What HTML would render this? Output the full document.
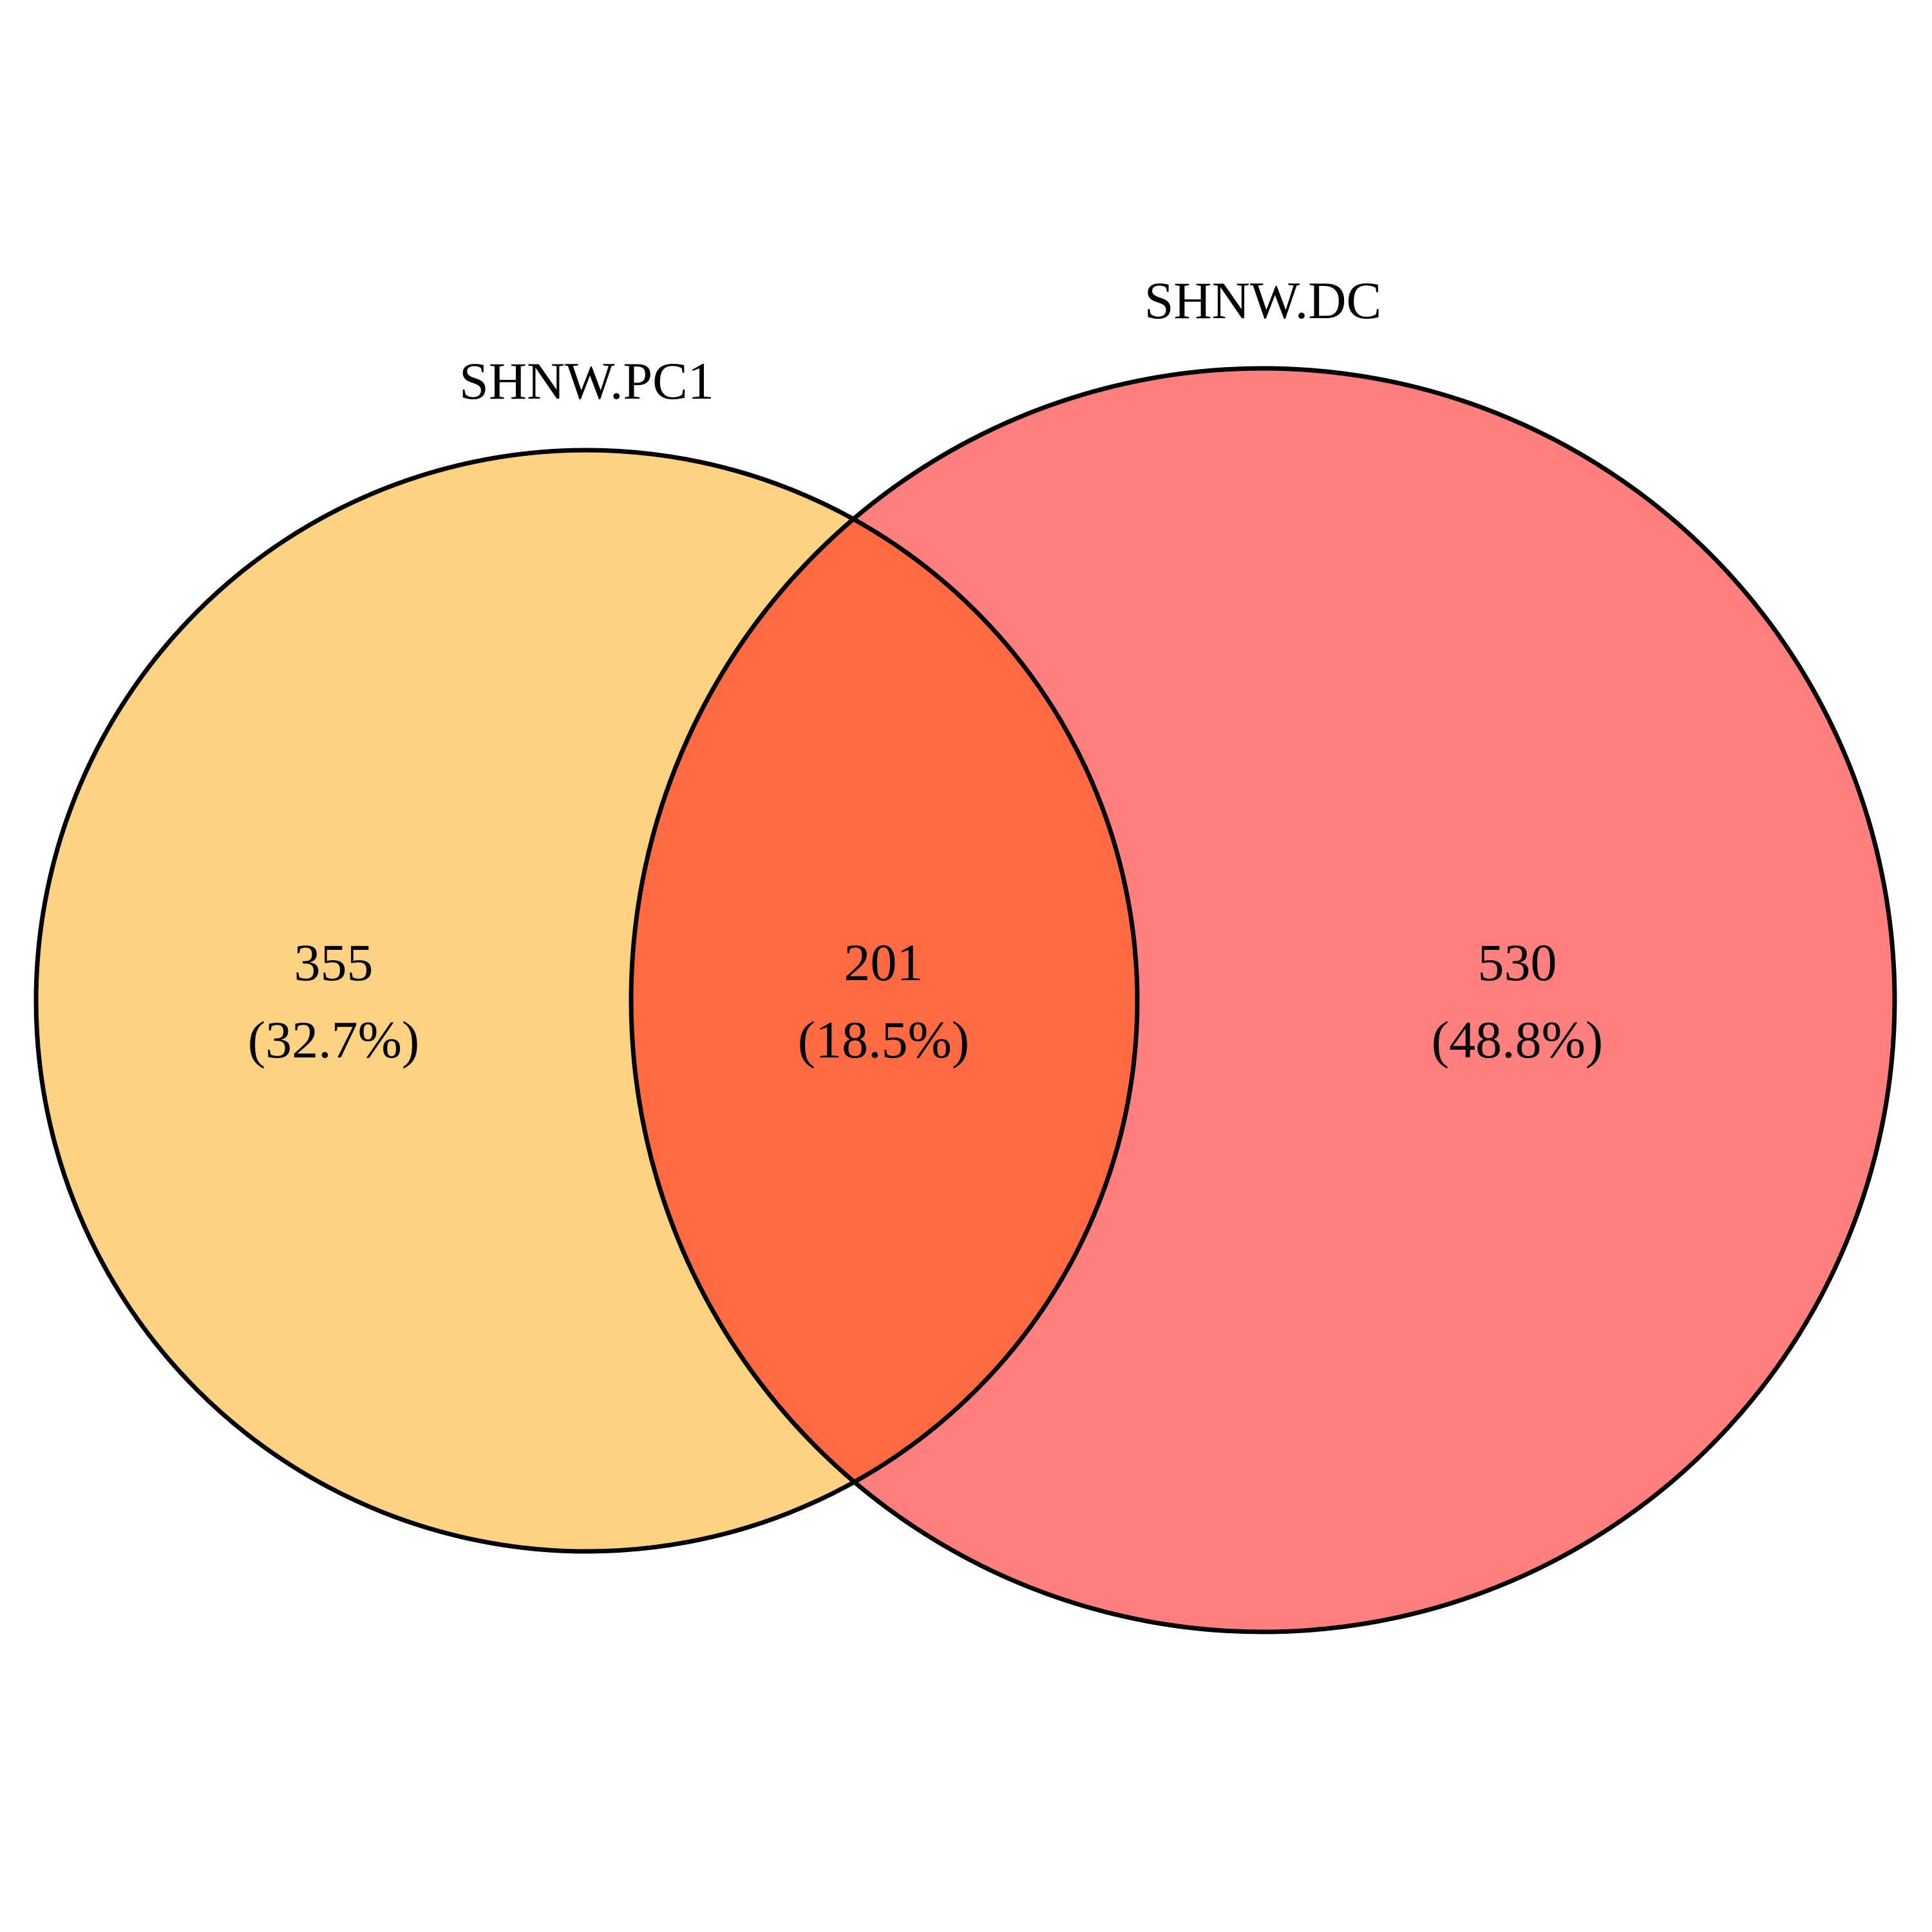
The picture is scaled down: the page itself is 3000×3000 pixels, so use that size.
<!DOCTYPE html>
<html><head><meta charset="utf-8"><style>html,body{margin:0;padding:0;background:#fff}svg{display:block}</style></head>
<body>
<svg width="3000" height="3000" viewBox="0 0 3000 3000" font-family="'Liberation Serif', serif">
<defs>
<clipPath id="clipL"><circle cx="911" cy="1554" r="855"/></clipPath>
</defs>
<circle cx="911" cy="1554" r="855" fill="#fdd283"/>
<circle cx="1961" cy="1553" r="981" fill="#ff7f7f"/>
<circle cx="1961" cy="1553" r="981" fill="#ff6a42" clip-path="url(#clipL)"/>
<circle cx="911" cy="1554" r="855" fill="none" stroke="#000" stroke-width="7"/>
<circle cx="1961" cy="1553" r="981" fill="none" stroke="#000" stroke-width="7"/>
<g font-size="82" text-anchor="middle" fill="#000">
<text x="911" y="619">SHNW.PC1</text>
<text x="1961" y="494">SHNW.DC</text>
<text x="518" y="1522">355</text>
<text x="518" y="1642">(32.7%)</text>
<text x="1372" y="1522">201</text>
<text x="1372" y="1642">(18.5%)</text>
<text x="2356" y="1522">530</text>
<text x="2356" y="1642">(48.8%)</text>
</g>
</svg>
</body></html>
